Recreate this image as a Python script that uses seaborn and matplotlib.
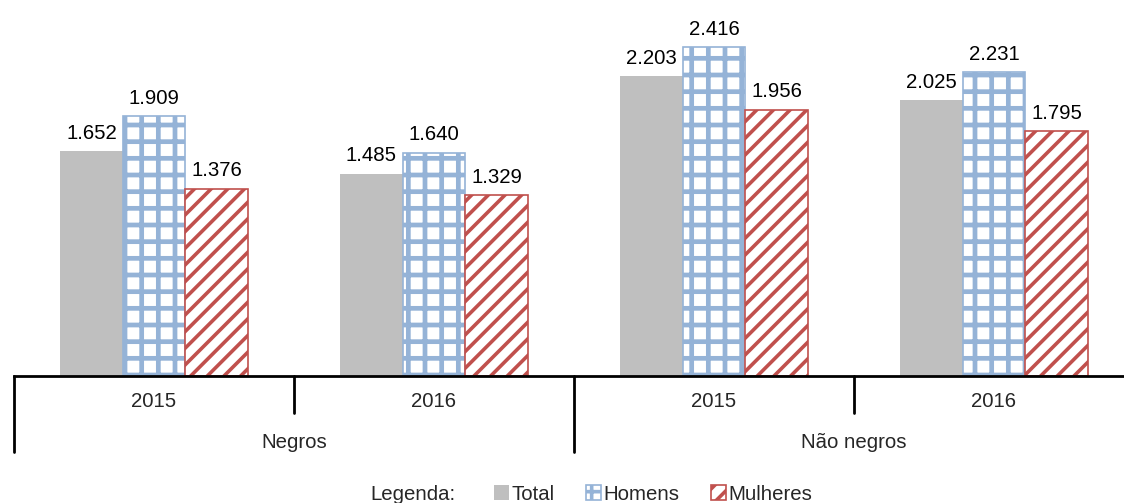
"""
Rendimento médio por cor e sexo - barras agrupadas com hachuras
"""

import matplotlib
matplotlib.use("Agg")
import matplotlib.pyplot as plt
import seaborn as sns
import pandas as pd

# dados
grupos = ["Negros", "Negros", "Não negros", "Não negros"]
anos = ["2015", "2016", "2015", "2016"]
total = [1652, 1485, 2203, 2025]
homens = [1909, 1640, 2416, 2231]
mulheres = [1376, 1329, 1956, 1795]
series = ["Total", "Homens", "Mulheres"]


def _fmt(v):
    return f"{v:,.0f}".replace(",", ".")


def main():
    sns.set_style("white")
    plt.rcParams["font.family"] = ["Liberation Sans", "DejaVu Sans"]
    plt.rcParams["hatch.linewidth"] = 2.6
    fs = 14.7

    cats = [f"{g} {a}" for g, a in zip(grupos, anos)]
    rows = []
    for nome, vals in zip(series, [total, homens, mulheres]):
        for c, v in zip(cats, vals):
            rows.append({"Categoria": c, "Valor": v, "Série": nome})
    df = pd.DataFrame(rows)

    fig = plt.figure(figsize=(11.24, 5.03), dpi=100)
    ax = fig.add_axes([14 / 1124, 127 / 503, 1120 / 1124, 376 / 503])

    sns.barplot(data=df, x="Categoria", y="Valor", hue="Série", order=cats,
                hue_order=series, palette=["#BFBFBF", "white", "white"],
                width=0.67, legend=False, ax=ax, errorbar=None)

    estilos = [
        dict(edgecolor="#BFBFBF", hatch=None, lw=0, hlw=None),
        dict(edgecolor="#95B3D7", hatch="+", lw=1.2, hlw=3.4),
        dict(edgecolor="#C0504D", hatch="//", lw=1.2, hlw=2.6),
    ]
    for cont, est in zip(ax.containers, estilos):
        for p in cont:
            p.set_edgecolor(est["edgecolor"])
            p.set_linewidth(est["lw"])
            if est["hatch"]:
                p.set_hatch(est["hatch"])
                if hasattr(p, "set_hatch_linewidth"):
                    p.set_hatch_linewidth(est["hlw"])
        ax.bar_label(cont, labels=[_fmt(v) for v in cont.datavalues],
                     padding=6, fontsize=fs, color="black")

    ax.set_ylim(0, 2760)
    ax.set_xlim(-0.5, len(cats) - 0.5)
    ax.set_yticks([])
    ax.set_ylabel("")
    ax.set_xlabel("")
    for s in ["top", "right", "left"]:
        ax.spines[s].set_visible(False)
    ax.spines["bottom"].set_linewidth(2)
    ax.spines["bottom"].set_color("black")

    ax.set_xticks(range(len(cats)))
    ax.set_xticklabels(anos, fontsize=fs)
    ax.tick_params(axis="x", length=0, pad=11.5)

    trans = ax.get_xaxis_transform()
    # separadores entre anos e entre grupos
    for x in [0.5, 2.5]:
        ax.plot([x, x], [0, -0.098], color="black", lw=2, transform=trans, clip_on=False)
    for x in [-0.5, 1.5, 3.5]:
        ax.plot([x, x], [0, -0.202], color="black", lw=2, transform=trans, clip_on=False)

    for x, g in [(0.5, "Negros"), (2.5, "Não negros")]:
        ax.text(x, -0.178, g, transform=trans, ha="center", va="center", fontsize=fs)

    fig.text(413 / 1124, 9 / 503, "Legenda:", ha="center", va="center", fontsize=fs)
    handles = [c[0] for c in ax.containers]
    fig.legend(handles, series, loc="center", bbox_to_anchor=(653 / 1124, 9 / 503),
               ncol=3, frameon=False, fontsize=fs, handlelength=0.75, handleheight=0.75,
               handletextpad=0.1, columnspacing=1.55, borderpad=0)

    fig.savefig("out.png", dpi=100, facecolor="white")


if __name__ == "__main__":
    main()
